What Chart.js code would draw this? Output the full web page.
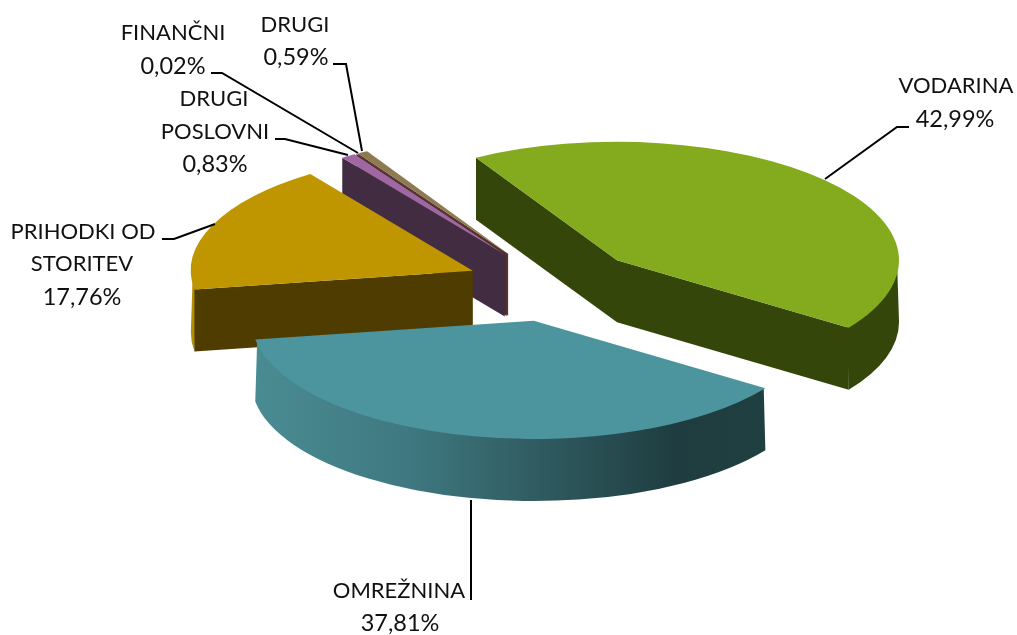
<!DOCTYPE html>
<html lang="sl">
<head>
    <meta charset="UTF-8">
    <title>Prihodki</title>
    <script src="https://cdn.jsdelivr.net/npm/chart.js"></script>
    <style>
        html, body { margin: 0; padding: 0; background: #fff; }
        canvas { display: block; }
    </style>
</head>
<body>
    <canvas id="pieChart" width="1017" height="635"></canvas>
    <script>
        // data
        var categories = ['VODARINA', 'OMREŽNINA', 'PRIHODKI OD STORITEV', 'DRUGI POSLOVNI', 'FINANČNI', 'DRUGI'];
        var shares = [42.99, 37.81, 17.76, 0.83, 0.02, 0.59];

        // styling
        var topColors = ['#84aa1e', '#4d959e', '#bf9600', '#9f68a2', '#a0708f', '#8f7950'];
        var wallColors = ['#34460a', '#1f3f43', '#4f3c00', '#412c42', '#4e2f30', '#5a3a20'];
        var rimColors = ['#34460a', null, '#b58e00', '#412c42', '#4e2f30', '#5a3a20'];
        var wallOrder = [5, 4, 3, 2, 0, 1];

        // where the pie sits and how it is tilted
        var centerX = 553, centerY = 285, tilt = 0.42, depth = 62, explode = 87;

        var labelLines = [
            [['VODARINA', 956, 86], ['42,99%', 955, 119]],
            [['OMREŽNINA', 399, 591], ['37,81%', 400, 623]],
            [['PRIHODKI OD', 83, 232], ['STORITEV', 82, 264], ['17,76%', 82, 297]],
            [['DRUGI', 214, 99], ['POSLOVNI', 215, 132], ['0,83%', 215, 164]],
            [['FINANČNI', 173, 33], ['0,02%', 173, 66]],
            [['DRUGI', 295, 25], ['0,59%', 296, 57]]
        ];
        var leaders = [
            [[825, 179], [897, 127], [909, 127]],
            [[471, 500], [471, 600]],
            [[162, 239], [174, 239], [215, 224]],
            [[275, 139], [285, 139], [348, 155]],
            [[211, 73], [222, 73], [358, 153]],
            [[333, 64], [346, 64], [362, 151]]
        ];

        function pushOut(arc) {
            var mid = (arc.startAngle + arc.endAngle) / 2;
            return { x: Math.cos(mid) * explode, y: Math.sin(mid) * explode };
        }

        function drawWalls(ctx, arcs) {
            var d = depth / tilt;

            wallOrder.forEach(function (i) {
                var arc = arcs[i];
                var p = pushOut(arc);
                var x = arc.x + p.x;
                var y = arc.y + p.y;
                var r = arc.outerRadius;

                function cutFace(a) {
                    ctx.beginPath();
                    ctx.moveTo(x, y);
                    ctx.lineTo(x + Math.cos(a) * r, y + Math.sin(a) * r);
                    ctx.lineTo(x + Math.cos(a) * r, y + Math.sin(a) * r + d);
                    ctx.lineTo(x, y + d);
                    ctx.closePath();
                    ctx.fillStyle = wallColors[i];
                    ctx.fill();
                }

                // the curved outside, only the part on the near half of the ellipse
                var fill = rimColors[i];
                if (!fill) {
                    fill = ctx.createLinearGradient(x - r, 0, x + r, 0);
                    fill.addColorStop(0, '#4a8c93');
                    fill.addColorStop(0.28, '#3f7880');
                    fill.addColorStop(0.75, '#1f3d40');
                    fill.addColorStop(1, '#20403f');
                }
                [0, 2 * Math.PI].forEach(function (turn) {
                    var from = Math.max(arc.startAngle, turn);
                    var to = Math.min(arc.endAngle, turn + Math.PI);
                    if (from >= to) return;
                    ctx.beginPath();
                    ctx.arc(x, y, r - 2, from, to); // tucked under the top so no seam shows
                    ctx.arc(x, y + d, r, to, from, true);
                    ctx.closePath();
                    ctx.fillStyle = fill;
                    ctx.fill();
                });

                // a cut face looks at the viewer when its normal points down the screen
                if (Math.cos(arc.startAngle) < 0) cutFace(arc.startAngle);
                if (Math.cos(arc.endAngle) > 0) cutFace(arc.endAngle);
            });
        }

        var tiltPlugin = {
            id: 'tilt',
            beforeDatasetDraw: function (chart) {
                var ctx = chart.ctx;
                var arcs = chart.getDatasetMeta(0).data;
                ctx.save();
                ctx.translate(centerX, centerY);
                ctx.scale(1, tilt);
                ctx.translate(-arcs[0].x, -arcs[0].y);
                drawWalls(ctx, arcs);
                // slices themselves, each moved out along its middle angle
                arcs.forEach(function (arc) {
                    var p = pushOut(arc);
                    ctx.save();
                    ctx.translate(p.x, p.y);
                    arc.draw(ctx);
                    ctx.restore();
                });
                ctx.restore();
                return false;
            }
        };

        var labelPlugin = {
            id: 'pieLabels',
            afterDraw: function (chart) {
                var ctx = chart.ctx;
                ctx.save();
                ctx.strokeStyle = '#000';
                ctx.lineWidth = 2;
                leaders.forEach(function (pts) {
                    ctx.beginPath();
                    pts.forEach(function (p, k) {
                        if (k === 0) ctx.moveTo(p[0], p[1]);
                        else ctx.lineTo(p[0], p[1]);
                    });
                    ctx.stroke();
                });
                ctx.fillStyle = '#111';
                ctx.textAlign = 'center';
                ctx.textBaseline = 'middle';
                labelLines.forEach(function (lines) {
                    lines.forEach(function (l) {
                        ctx.font = /\d/.test(l[0]) ? '23.5px Lato' : '22px Lato';
                        ctx.fillText(l[0], l[1], l[2]);
                    });
                });
                ctx.restore();
            }
        };

        var pieChart = new Chart(document.getElementById('pieChart').getContext('2d'), {
            type: 'pie',
            data: {
                labels: categories,
                datasets: [{
                    data: shares,
                    backgroundColor: topColors,
                    borderWidth: 0
                }]
            },
            options: {
                responsive: false,
                animation: false,
                rotation: -30,
                radius: 282,
                events: [],
                plugins: {
                    legend: { display: false },
                    tooltip: { enabled: false }
                }
            },
            plugins: [tiltPlugin, labelPlugin]
        });
    </script>
</body>
</html>
